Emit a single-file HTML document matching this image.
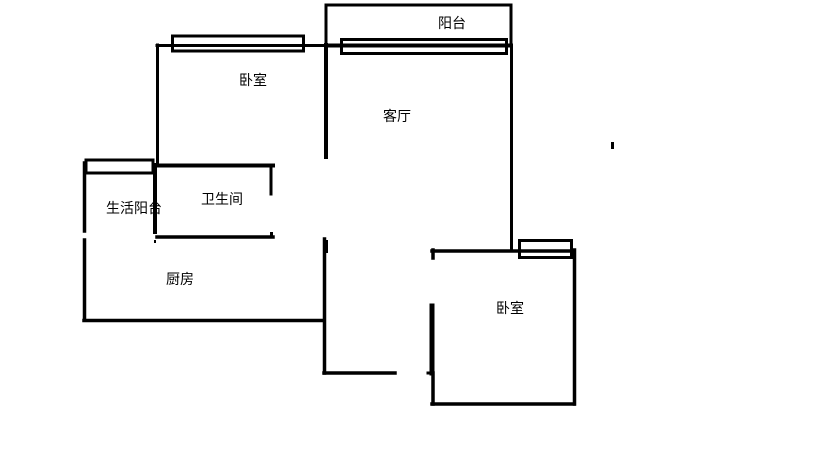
<!DOCTYPE html>
<html><head><meta charset="utf-8"><style>
html,body{margin:0;padding:0;background:#fff;width:816px;height:460px;overflow:hidden}
svg text{font-family:"Liberation Sans","Noto Sans CJK SC",sans-serif;font-size:14px;fill:#000}
</style></head><body>
<svg width="816" height="460" viewBox="0 0 816 460" xmlns="http://www.w3.org/2000/svg">
<g stroke="#000" fill="none" stroke-linecap="square">
<rect x="326" y="5" width="185" height="40" stroke-width="3"/>
<line x1="157" y1="45.5" x2="511" y2="45.5" stroke-width="3"/>
<rect x="172.5" y="36" width="131" height="15" stroke-width="3"/>
<rect x="341.5" y="39.5" width="165" height="14" stroke-width="3"/>
<line x1="326" y1="45.5" x2="511" y2="45.5" stroke-width="4"/>
<line x1="157.5" y1="45" x2="157.5" y2="165" stroke-width="3"/>
<line x1="326" y1="45" x2="326" y2="157" stroke-width="4"/>
<line x1="511.5" y1="45" x2="511.5" y2="250" stroke-width="3"/>
<line x1="155" y1="165.5" x2="273" y2="165.5" stroke-width="4"/>
<line x1="271" y1="165" x2="271" y2="194" stroke-width="3"/>
<line x1="157" y1="237" x2="273" y2="237" stroke-width="3.5"/>
<line x1="155" y1="165" x2="155" y2="232" stroke-width="4"/>
<rect x="154" y="240" width="2" height="3" fill="#000" stroke="none"/>
<rect x="270" y="232" width="3" height="4" fill="#000" stroke="none"/>
<rect x="86" y="160" width="67" height="13" stroke-width="3"/>
<line x1="84.5" y1="163" x2="84.5" y2="231" stroke-width="3.5"/>
<line x1="84.5" y1="240" x2="84.5" y2="320" stroke-width="3.5"/>
<line x1="84" y1="320.5" x2="324" y2="320.5" stroke-width="3.5"/>
<line x1="324.5" y1="239" x2="324.5" y2="373" stroke-width="3.5"/>
<rect x="324" y="240" width="4" height="13" fill="#000" stroke="none"/>
<line x1="324" y1="373" x2="395" y2="373" stroke-width="3.5"/>
<line x1="432" y1="251" x2="574" y2="251" stroke-width="3.5"/>
<line x1="433" y1="250" x2="433" y2="258" stroke-width="3.5"/>
<rect x="519.5" y="240.5" width="52" height="17" stroke-width="3"/>
<line x1="574.5" y1="250" x2="574.5" y2="404" stroke-width="3.5"/>
<line x1="432" y1="404" x2="574" y2="404" stroke-width="3.5"/>
<line x1="432" y1="306" x2="432" y2="373" stroke-width="5"/>
<line x1="433" y1="373" x2="433" y2="404" stroke-width="3.5"/>
<line x1="428" y1="373" x2="433" y2="373" stroke-width="3"/>
<rect x="611" y="142" width="3" height="7" fill="#000" stroke="none"/>
</g>
<text x="452" y="28" text-anchor="middle">阳台</text>
<text x="253" y="85" text-anchor="middle">卧室</text>
<text x="397" y="121" text-anchor="middle">客厅</text>
<text x="222" y="204" text-anchor="middle">卫生间</text>
<text x="134" y="213" text-anchor="middle">生活阳台</text>
<text x="180" y="284" text-anchor="middle">厨房</text>
<text x="510" y="313" text-anchor="middle">卧室</text>
</svg>
</body></html>
